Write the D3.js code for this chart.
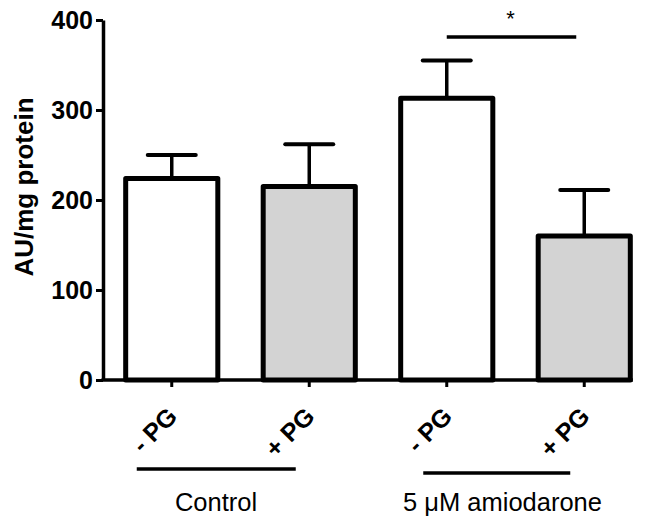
<!DOCTYPE html>
<html><head><meta charset="utf-8">
<script src="https://cdn.jsdelivr.net/npm/d3@7"></script>
<style>body{margin:0;background:#fff}svg{display:block}text{font-family:"Liberation Sans",Arial,sans-serif}</style>
</head><body><div id="chart"></div>
<script>
const categories = ["c-PG", "c+PG", "a-PG", "a+PG"];
const tickLabels = ["- PG", "+ PG", "- PG", "+ PG"];
const means = [224, 215, 313, 160];
const errorsUp = [250, 262, 355, 211];
const fills = ["#ffffff", "#d3d3d3", "#ffffff", "#d3d3d3"];
const yTicks = [0, 100, 200, 300, 400];
const groups = [{label: "Control", from: 0, to: 1}, {label: "5 μM amiodarone", from: 2, to: 3}];
const yTitle = "AU/mg protein";

const W = 648, H = 520;
const svg = d3.select("#chart").append("svg").attr("width", W).attr("height", H);
const y = d3.scaleLinear().domain([0, 400]).range([380, 20]);
const x = d3.scaleBand().domain(categories).range([103, 653]).paddingInner(0.33).paddingOuter(0.165);

// y axis
const yAxis = svg.append("g").attr("transform", "translate(103,0)")
  .call(d3.axisLeft(y).tickValues(yTicks).tickSize(7).tickSizeOuter(0));
yAxis.select(".domain").attr("stroke-width", 3.5);
yAxis.selectAll(".tick line").attr("stroke-width", 3);
yAxis.selectAll(".tick text").attr("font-size", 25).attr("font-weight", "bold").attr("x", -10).attr("fill", "#000");

svg.append("text").attr("transform", "translate(33,187) rotate(-90)")
  .attr("text-anchor", "middle").attr("font-size", 26).attr("font-weight", "bold").text(yTitle);

// bars
categories.forEach((c, i) => {
  const cx = x(c) + x.bandwidth() / 2;
  svg.append("line").attr("x1", cx).attr("x2", cx).attr("y1", y(means[i])).attr("y2", y(errorsUp[i]))
    .attr("stroke", "#000").attr("stroke-width", 3.5);
  svg.append("line").attr("x1", cx - 24).attr("x2", cx + 24).attr("y1", y(errorsUp[i])).attr("y2", y(errorsUp[i]))
    .attr("stroke", "#000").attr("stroke-width", 4).attr("stroke-linecap", "round");
  svg.append("rect").attr("x", x(c)).attr("width", x.bandwidth())
    .attr("y", y(means[i])).attr("height", y(0) - y(means[i]))
    .attr("fill", fills[i]).attr("stroke", "#000").attr("stroke-width", 5).attr("stroke-linejoin", "round");
});

// x axis
const xAxis = svg.append("g").attr("transform", "translate(0,380)")
  .call(d3.axisBottom(x).tickSize(7).tickSizeOuter(0).tickFormat((d, i) => tickLabels[i]));
xAxis.select(".domain").remove();
svg.append("line").attr("x1", 101.5).attr("x2", x(categories[3]) + x.bandwidth() + 2.5)
  .attr("y1", 380).attr("y2", 380).attr("stroke", "#000").attr("stroke-width", 3.5);
xAxis.selectAll(".tick line").attr("stroke-width", 3);
xAxis.selectAll(".tick text").attr("font-size", 25).attr("font-weight", "bold").attr("fill", "#000")
  .attr("text-anchor", "end").attr("dy", null).attr("y", 0)
  .attr("transform", "translate(7,38) rotate(-45)");

// group lines and labels
groups.forEach((g, k) => {
  const x0 = x(categories[g.from]) + x.bandwidth() / 2, x1 = x(categories[g.to]) + x.bandwidth() / 2;
  const ly = k === 0 ? 469 : 473;
  const off = k === 0 ? [-35, -13.5, -24.5] : [-23.5, -14, -13];
  svg.append("line").attr("x1", x0 + off[0]).attr("x2", x1 + off[1]).attr("y1", ly).attr("y2", ly)
    .attr("stroke", "#000").attr("stroke-width", 3.5);
  svg.append("text").attr("x", (x0 + x1) / 2 + off[2]).attr("y", 511).attr("text-anchor", "middle")
    .attr("font-size", 25.5).text(g.label);
});

// significance
const sx0 = x(categories[2]) + x.bandwidth() / 2, sx1 = x(categories[3]) + x.bandwidth() / 2;
svg.append("line").attr("x1", sx0).attr("x2", sx1 - 8).attr("y1", 37).attr("y2", 37)
  .attr("stroke", "#000").attr("stroke-width", 3.5);
svg.append("text").attr("x", (sx0 + sx1 - 8) / 2 - 1).attr("y", 26).attr("text-anchor", "middle")
  .attr("font-size", 22).text("*");
</script></body></html>
